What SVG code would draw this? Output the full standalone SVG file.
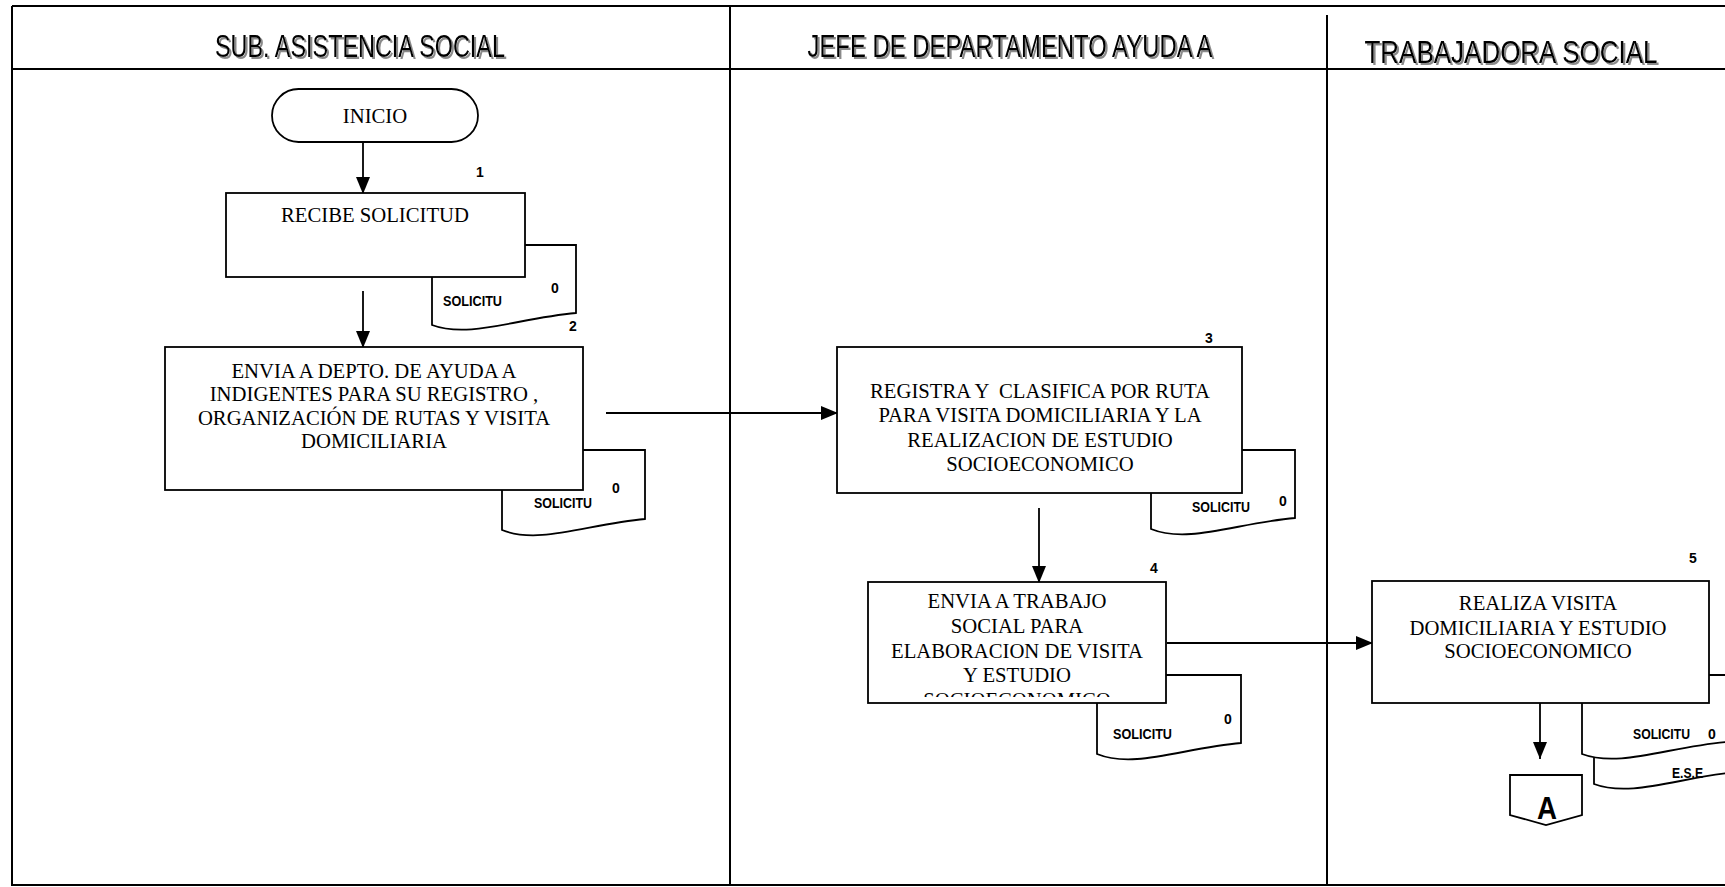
<svg xmlns="http://www.w3.org/2000/svg" width="1725" height="887" viewBox="0 0 1725 887">
  <style>
    .frame { fill: none; stroke: #000; stroke-width: 2; }
    .box { fill: #fff; stroke: #000; stroke-width: 1.8; }
    .doc { fill: #fff; stroke: #000; stroke-width: 1.8; }
    .conn { fill: none; stroke: #000; stroke-width: 1.8; }
    .lane { font-family: "Liberation Sans Narrow", "Liberation Sans", Arial, sans-serif; font-size: 30.5px; fill: #000; text-anchor: middle; }
    .body { font-family: "Liberation Serif", "Times New Roman", serif; font-size: 20.7px; fill: #000; text-anchor: middle; }
    .tag { font-family: "Liberation Sans", Arial, sans-serif; font-weight: bold; font-size: 15px; fill: #000; }
    .num { font-family: "Liberation Sans", Arial, sans-serif; font-weight: bold; font-size: 14px; fill: #000; text-anchor: middle; }
    .conA { font-family: "Liberation Sans", Arial, sans-serif; font-weight: bold; font-size: 31px; fill: #000; text-anchor: middle; }
  </style>
  <defs>
    <marker id="arrow" viewBox="0 0 17 14" refX="17" refY="7" markerWidth="17" markerHeight="14" markerUnits="userSpaceOnUse" orient="auto">
      <path d="M0,0 L17,7 L0,14 z" fill="#000"/>
    </marker>
    <filter id="shadow" x="-5%" y="-30%" width="110%" height="160%">
      <feDropShadow dx="2" dy="2" stdDeviation="0.7" flood-color="#8a8a8a" flood-opacity="1"/>
    </filter>
    <clipPath id="clip4">
      <rect x="868" y="582" width="298" height="115"/>
    </clipPath>
  </defs>

  <rect width="1725" height="887" fill="#fff"/>

  <!-- swimlane frame -->
  <g id="frame">
    <path class="frame" d="M12,6 H1725 M12,6 V885 H1725 M12,69 H1725 M730,6 V885 M1327,15 V885"/>
    <g filter="url(#shadow)">
      <text class="lane" x="360" y="57" textLength="290" lengthAdjust="spacingAndGlyphs">SUB. ASISTENCIA SOCIAL</text>
      <text class="lane" x="1010" y="57" textLength="405" lengthAdjust="spacingAndGlyphs">JEFE DE DEPARTAMENTO AYUDA A</text>
      <text class="lane" x="1511" y="63" textLength="293" lengthAdjust="spacingAndGlyphs">TRABAJADORA SOCIAL</text>
    </g>
  </g>

  <!-- connectors -->
  <g id="connectors">
    <path class="conn" d="M363,142 V194" marker-end="url(#arrow)"/>
    <path class="conn" d="M363,291 V348" marker-end="url(#arrow)"/>
    <path class="conn" d="M606,413 H838" marker-end="url(#arrow)"/>
    <path class="conn" d="M1039,508 V583" marker-end="url(#arrow)"/>
    <path class="conn" d="M1167,643 H1373" marker-end="url(#arrow)"/>
    <path class="conn" d="M1540,703 V759" marker-end="url(#arrow)"/>
  </g>

  <g id="inicio">
    <rect class="box" x="272" y="89" width="206" height="53" rx="26.5" ry="26.5"/>
    <text class="body" x="375" y="123">INICIO</text>
  </g>

  <g id="step1">
    <path class="doc" d="M432,245 H576 V313 C518,318 469,339 432,325 Z"/>
    <text class="tag" x="443" y="306" textLength="59" lengthAdjust="spacingAndGlyphs">SOLICITU</text>
    <text class="num" x="555" y="293">0</text>
    <rect class="box" x="226" y="193" width="299" height="84"/>
    <text class="body" x="375" y="222">RECIBE SOLICITUD</text>
    <text class="num" x="480" y="177">1</text>
  </g>

  <g id="step2">
    <path class="doc" d="M502,450 H645 V519 C588,524 539,545 502,530 Z"/>
    <text class="tag" x="534" y="508" textLength="58" lengthAdjust="spacingAndGlyphs">SOLICITU</text>
    <text class="num" x="616" y="493">0</text>
    <rect class="box" x="165" y="347" width="418" height="143"/>
    <text class="body" x="374" y="378">ENVIA A DEPTO. DE AYUDA A</text>
    <text class="body" x="374" y="401">INDIGENTES PARA SU REGISTRO ,</text>
    <text class="body" x="374" y="425">ORGANIZACIÓN DE RUTAS Y VISITA</text>
    <text class="body" x="374" y="448">DOMICILIARIA</text>
    <text class="num" x="573" y="331">2</text>
  </g>

  <g id="step3">
    <path class="doc" d="M1151,450 H1295 V518 C1237,523 1188,544 1151,529 Z"/>
    <text class="tag" x="1192" y="512" textLength="58" lengthAdjust="spacingAndGlyphs">SOLICITU</text>
    <text class="num" x="1283" y="506">0</text>
    <rect class="box" x="837" y="347" width="405" height="146"/>
    <text class="body" x="1040" y="398" xml:space="preserve">REGISTRA Y  CLASIFICA POR RUTA</text>
    <text class="body" x="1040" y="422">PARA VISITA DOMICILIARIA Y LA</text>
    <text class="body" x="1040" y="447">REALIZACION DE ESTUDIO</text>
    <text class="body" x="1040" y="471">SOCIOECONOMICO</text>
    <text class="num" x="1209" y="343">3</text>
  </g>

  <g id="step4">
    <path class="doc" d="M1097,675 H1241 V743 C1183,748 1134,769 1097,754 Z"/>
    <text class="tag" x="1113" y="739" textLength="59" lengthAdjust="spacingAndGlyphs">SOLICITU</text>
    <text class="num" x="1228" y="724">0</text>
    <rect class="box" x="868" y="582" width="298" height="121"/>
    <g clip-path="url(#clip4)">
      <text class="body" x="1017" y="608">ENVIA A TRABAJO</text>
      <text class="body" x="1017" y="633">SOCIAL PARA</text>
      <text class="body" x="1017" y="658">ELABORACION DE VISITA</text>
      <text class="body" x="1017" y="682">Y ESTUDIO</text>
      <text class="body" x="1017" y="707">SOCIOECONOMICO</text>
    </g>
    <text class="num" x="1154" y="573">4</text>
  </g>

  <g id="step5">
    <path class="doc" d="M1594,705 H1738 V772 C1680,777 1631,798 1594,784 Z"/>
    <text class="tag" x="1672" y="778" textLength="31" lengthAdjust="spacingAndGlyphs">E.S.E</text>
    <path class="doc" d="M1582,675 H1726 V742 C1668,747 1619,768 1582,754 Z"/>
    <text class="tag" x="1633" y="739" textLength="57" lengthAdjust="spacingAndGlyphs">SOLICITU</text>
    <text class="num" x="1712" y="739">0</text>
    <rect class="box" x="1372" y="581" width="337" height="122"/>
    <text class="body" x="1538" y="610">REALIZA VISITA</text>
    <text class="body" x="1538" y="635">DOMICILIARIA Y ESTUDIO</text>
    <text class="body" x="1538" y="658">SOCIOECONOMICO</text>
    <text class="num" x="1693" y="563">5</text>
  </g>

  <g id="connector-a">
    <path class="box" d="M1510,775 H1582 V815 L1546,825 L1510,815 Z"/>
    <text class="conA" x="1547" y="819" textLength="20" lengthAdjust="spacingAndGlyphs">A</text>
  </g>
</svg>
